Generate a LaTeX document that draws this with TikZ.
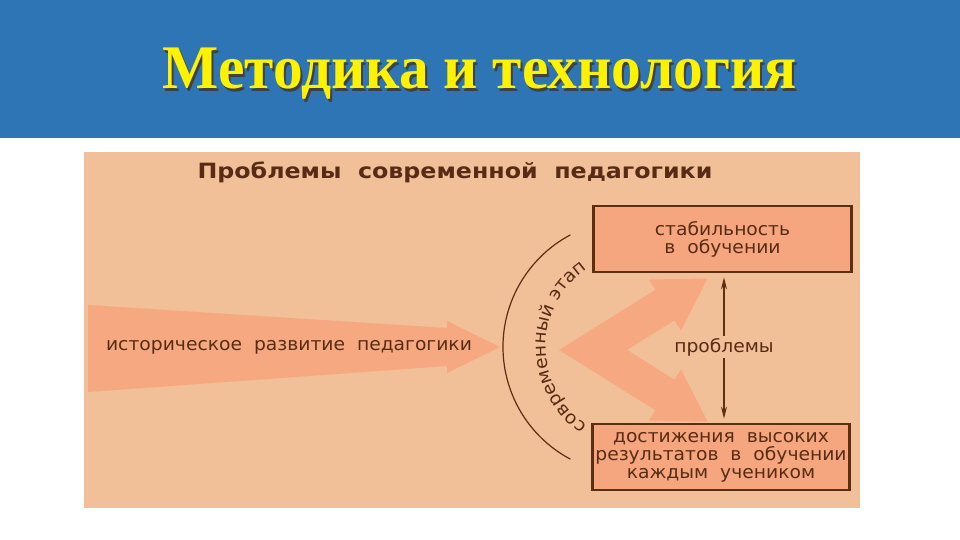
\documentclass[tikz,border=0pt]{standalone}
\usepackage{fontspec}
\setmainfont{Liberation Serif}[FakeStretch=0.96]
\newfontfamily\grotesk{DejaVu Sans}[FakeStretch=1.04]
\newfontfamily\groteskhead{DejaVu Sans}[FakeStretch=1.13]
\usetikzlibrary{positioning,arrows.meta,decorations.text}

\definecolor{slideblue}{RGB}{46,117,182}
\definecolor{peach}{RGB}{241,191,152}
\definecolor{salmon}{RGB}{246,168,128}
\definecolor{boxfill}{RGB}{245,166,126}
\definecolor{brownline}{RGB}{92,46,18}
\definecolor{browntext}{RGB}{88,44,20}

\tikzset{
  boxnode/.style={draw=brownline, line width=2.8pt, fill=boxfill, text=browntext,
    font=\grotesk\fontsize{18}{18}\selectfont, align=center,
    minimum width=258pt, minimum height=66pt, inner sep=0pt},
  plain/.style={text=browntext, font=\grotesk\fontsize{18}{18}\selectfont, inner sep=2pt},
  updown/.style={draw=brownline, line width=1.3pt, -{Stealth[length=12pt,width=6pt]}, shorten >=4pt}
}

\begin{document}
\begin{tikzpicture}[x=1pt,y=-1pt]
\useasboundingbox (0,0) rectangle (960,540);
\fill[white] (0,0) rectangle (960,540);
\fill[slideblue] (0,0) rectangle (960,138);
% title
\node[text=black!75, font=\bfseries\fontsize{62}{62}\selectfont] (titleshadow) at (482,77) {Методика и технология};
\node[text=yellow, font=\bfseries\fontsize{62}{62}\selectfont] (title) at (480,74) {Методика и технология};
% panel
\fill[peach] (84,152) rectangle (860,508);
\node[text=browntext, font=\groteskhead\bfseries\fontsize{21}{21}\selectfont] (heading) at (455,172) {Проблемы\ \ современной\ \ педагогики};
% historical arrow
\fill[salmon] (88,305) -- (447,328) -- (447,321) -- (500,347) -- (447,373) -- (447,366) -- (88,392) -- cycle;
\node[plain] (hist) at (289,347) {историческое\ \ развитие\ \ педагогики};
% fork
\fill[salmon] (559,350) -- (655.5,289.7) -- (649,279.5) -- (707.5,278.5) -- (681,330.5) -- (674.5,320.3)
  -- (627,350) -- (674.5,379.7) -- (681,369.5) -- (707.5,421.5) -- (649,420.5) -- (655.5,410.3) -- cycle;
% arc with text
\draw[brownline, line width=1.2pt] (630,347) ++(118:127) arc[start angle=118, end angle=242, radius=127];
\path[decorate, decoration={text along path, text align=center, text color=browntext,
  text={|\grotesk\fontsize{18}{18}\selectfont|современный этап}}]
  (641,347) ++(116:95) arc[start angle=116, end angle=244, radius=95];
% boxes
\node[boxnode] (stab) at (722.5,239) {стабильность\\в\ \ обучении};
\node[boxnode, minimum width=257pt] (dost) at (721,457) {достижения\ \ высоких\\результатов\ \ в\ \ обучении\\каждым\ \ учеником};
\node[plain] (probl) at (724,347) {проблемы};
\draw[updown] (probl.north) -- (probl.north |- stab.south);
\draw[updown] (probl.south) -- (probl.south |- dost.north);
\end{tikzpicture}
\end{document}
